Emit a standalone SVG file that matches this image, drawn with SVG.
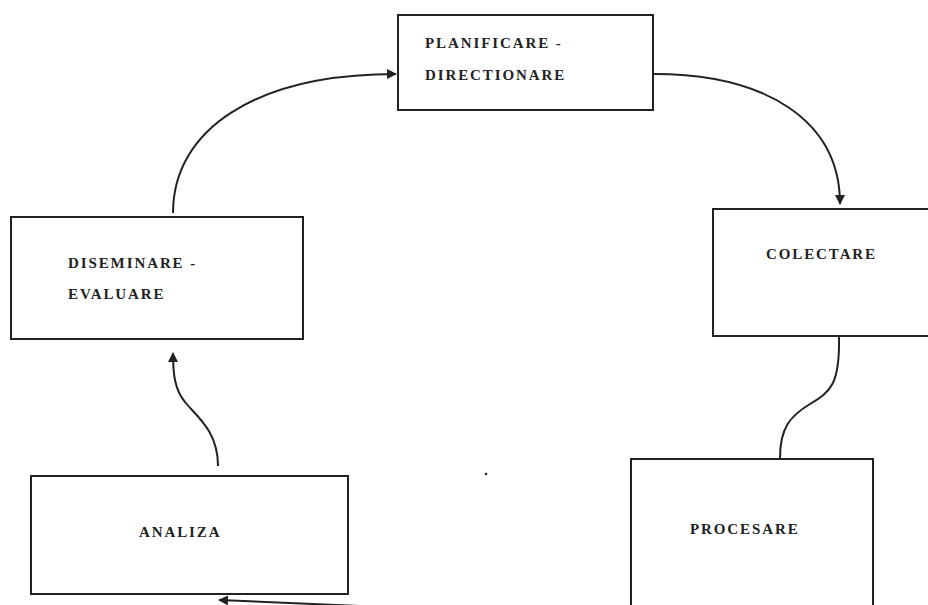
<svg xmlns="http://www.w3.org/2000/svg" width="928" height="605" viewBox="0 0 928 605">
<style>
.box{fill:#fff;stroke:#222;stroke-width:2}
.lbl{font-family:"Liberation Serif","Times New Roman",serif;font-weight:bold;font-size:15px;letter-spacing:1.9px;fill:#222}
.con{fill:none;stroke:#222;stroke-width:2}
</style>
<defs>
<marker id="ah" viewBox="0 0 10 10" refX="9" refY="5" markerWidth="5" markerHeight="5" markerUnits="strokeWidth" orient="auto">
<path d="M0,0 L10,5 L0,10 Z" fill="#222"/>
</marker>
</defs>
<rect width="928" height="605" fill="#fff"/>
<g id="connectors">
<path class="con" d="M173,213 C173,130 255,74 396,74" marker-end="url(#ah)"/>
<path class="con" d="M654,74 C765,74 840,120 840,204" marker-end="url(#ah)"/>
<path class="con" d="M839,337 C840,385 830,392 810,404 C790,416 780,428 780,458"/>
<path class="con" d="M218,466 C218,430 195,415 185,402 C175,390 173,375 173,353" marker-end="url(#ah)"/>
<path class="con" d="M430,609 L219,600" marker-end="url(#ah)"/>
<circle cx="486" cy="474" r="1.3" fill="#222"/>
</g>
<g id="planificare">
<rect class="box" x="398" y="15" width="255" height="95"/>
<text class="lbl" x="425" y="48">PLANIFICARE -</text>
<text class="lbl" x="425" y="80">DIRECTIONARE</text>
</g>
<g id="diseminare">
<rect class="box" x="11" y="217" width="292" height="122"/>
<text class="lbl" x="68" y="268">DISEMINARE -</text>
<text class="lbl" x="68" y="299">EVALUARE</text>
</g>
<g id="colectare">
<rect class="box" x="713" y="209" width="230" height="127"/>
<text class="lbl" x="766" y="259">COLECTARE</text>
</g>
<g id="analiza">
<rect class="box" x="31" y="476" width="317" height="118"/>
<text class="lbl" x="139" y="537">ANALIZA</text>
</g>
<g id="procesare">
<rect class="box" x="631" y="459" width="242" height="160"/>
<text class="lbl" x="690" y="534">PROCESARE</text>
</g>
</svg>
